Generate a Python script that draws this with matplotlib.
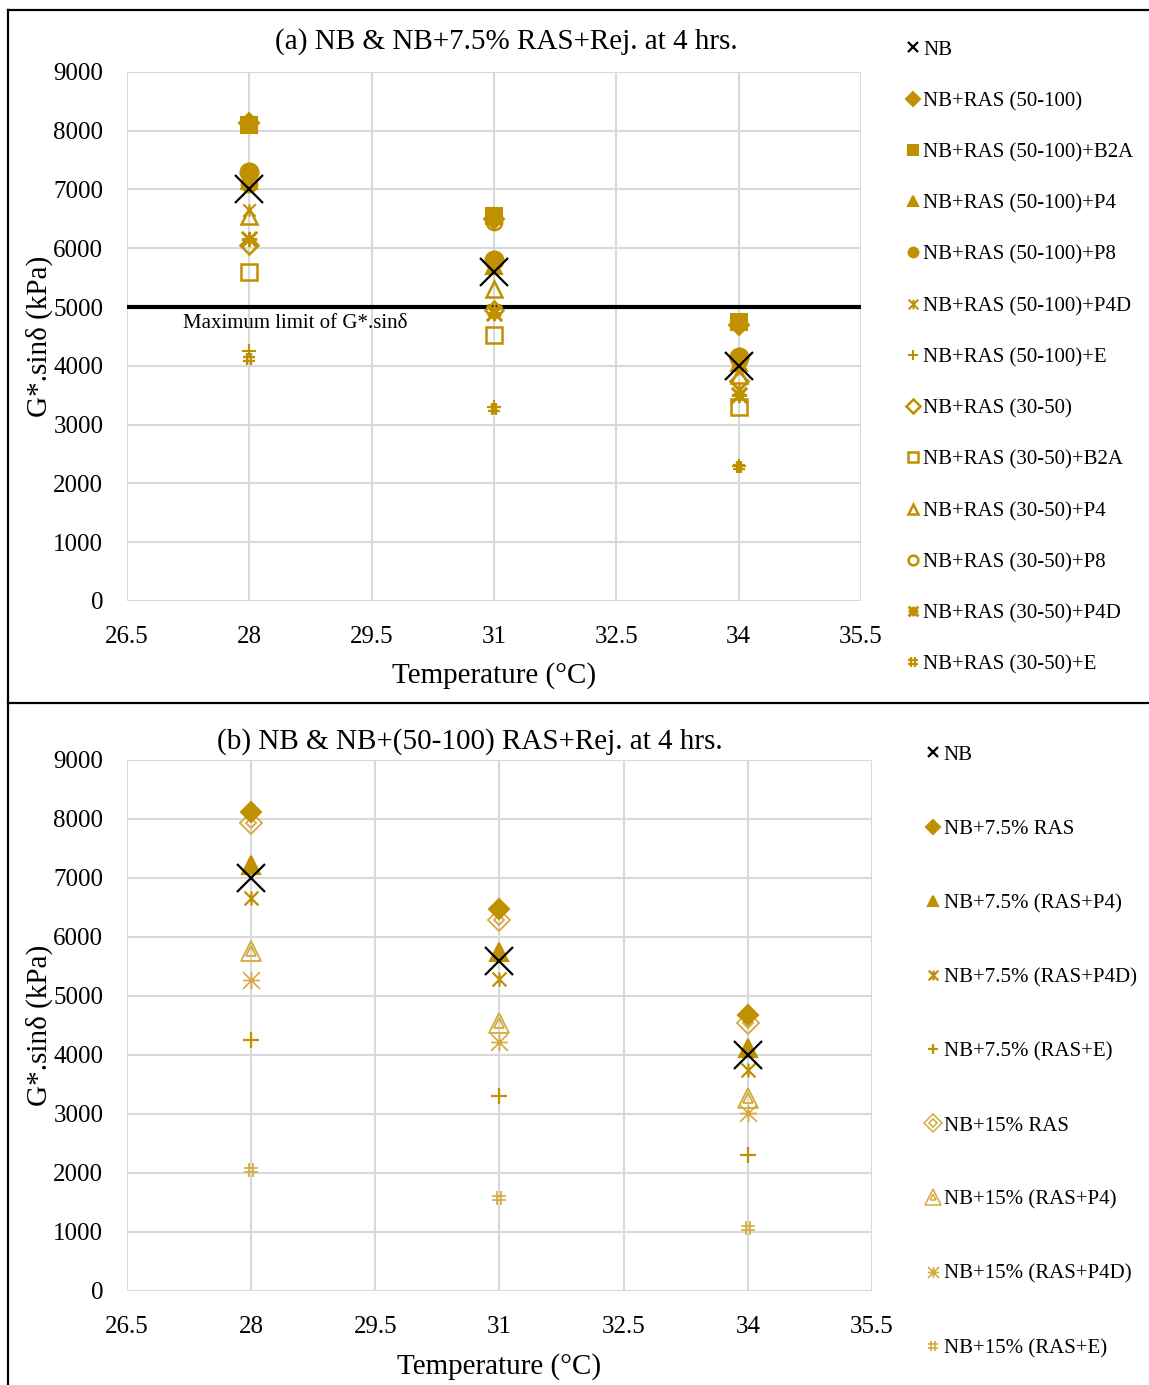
"""
G*.sin(delta) vs temperature for NB and RAS blends (two panels).
"""
import matplotlib
matplotlib.use('Agg')
import matplotlib.pyplot as plt
from matplotlib.path import Path
from matplotlib.lines import Line2D
from matplotlib.legend_handler import HandlerTuple

plt.rcParams['font.family'] = ['Liberation Serif', 'DejaVu Serif']

# ---------------- data ----------------
temps = [28, 31, 34]

# panel (a)
nb = [7000, 5600, 4000]
ras_50_100 = [8130, 6500, 4700]
ras_50_100_b2a = [8100, 6550, 4750]
ras_50_100_p4 = [7150, 5700, 4050]
ras_50_100_p8 = [7300, 5800, 4150]
ras_50_100_p4d = [6650, 4950, 3600]
ras_50_100_e = [4250, 3300, 2300]
ras_30_50 = [6050, 4950, 3750]
ras_30_50_b2a = [5600, 4520, 3300]
ras_30_50_p4 = [6550, 5300, 3850]
ras_30_50_p8 = [7100, 6450, 4100]
ras_30_50_p4d = [6150, 4900, 3500]
ras_30_50_e = [4120, 3270, 2280]

# panel (b)
ras75 = [8120, 6480, 4680]
ras75_p4 = [7220, 5750, 4120]
ras75_p4d = [6660, 5280, 3750]
ras75_e = [4250, 3300, 2300]
ras15 = [7930, 6280, 4540]
ras15_p4 = [5770, 4540, 3270]
ras15_p4d = [5270, 4220, 3020]
ras15_e = [2050, 1580, 1070]

LIMIT = 5000
xticks = [26.5, 28, 29.5, 31, 32.5, 34, 35.5]
yticks = list(range(0, 9001, 1000))

GOLD = '#BF9000'
LIGHT = '#D4AA3C'

# custom markers (Excel star / asterisk / hash look)
M, L = Path.MOVETO, Path.LINETO
STAR = Path([(-1, -1), (1, 1), (-1, 1), (1, -1), (0, -1), (0, 1)],
            [M, L, M, L, M, L])
ASTER = Path([(-1, -1), (1, 1), (-1, 1), (1, -1), (0, -1), (0, 1), (-1, 0), (1, 0)],
             [M, L, M, L, M, L, M, L])
HASH = Path([(-0.35, -1), (-0.35, 1), (0.35, -1), (0.35, 1),
             (-1, -0.35), (1, -0.35), (-1, 0.35), (1, 0.35)],
            [M, L, M, L, M, L, M, L])

fig = plt.figure(figsize=(11.49, 13.85), dpi=100)
ax1 = fig.add_axes([0.1105, 0.5661, 0.6388, 0.3820])
ax2 = fig.add_axes([0.1105, 0.0679, 0.6484, 0.3834])


def style_axes(ax):
    ax.set_xlim(26.5, 35.5)
    ax.set_ylim(0, 9000)
    ax.set_xticks(xticks)
    ax.set_xticklabels([f'{t:g}' for t in xticks])
    ax.set_yticks(yticks)
    ax.grid(True, color='#D9D9D9', lw=1.5, zorder=0)
    ax.set_axisbelow(True)
    for s in ax.spines.values():
        s.set_visible(False)
    ax.tick_params(length=0, labelsize=18)
    ax.tick_params(axis='y', pad=17)
    ax.tick_params(axis='x', pad=18)
    ax.set_ylabel('G*.sinδ (kPa)', fontsize=21, labelpad=0)


def pts(ax, y, marker, ms, color=GOLD, fill=True, mew=1.5, label=None):
    return ax.plot(temps, y, ls='none', marker=marker, ms=ms,
                   mfc=color if fill else 'none', mec=color, mew=mew,
                   label=label, zorder=3)[0]


def proxy(marker, ms, color=LIGHT, mew=1.1):
    return Line2D([], [], ls='none', marker=marker, ms=ms, mfc='none',
                  mec=color, mew=mew)


# ---------------- panel (a) ----------------
style_axes(ax1)
ax1.axhline(LIMIT, color='black', lw=3, zorder=2)
ax1.text(27.19, 4720, 'Maximum limit of G*.sinδ', fontsize=15, va='center', ha='left')

h1 = []
h1.append(pts(ax1, ras_30_50_e, HASH, 9, mew=1.6, label='NB+RAS (30-50)+E'))
h1.append(pts(ax1, ras_50_100_e, '+', 10, label='NB+RAS (50-100)+E'))
h1.append(pts(ax1, ras_30_50_b2a, 's', 11, fill=False, mew=1.8, label='NB+RAS (30-50)+B2A'))
h1.append(pts(ax1, ras_30_50, 'D', 9, fill=False, mew=1.8, label='NB+RAS (30-50)'))
h1.append(pts(ax1, ras_30_50_p4d, ASTER, 11, mew=2.2, label='NB+RAS (30-50)+P4D'))
h1.append(pts(ax1, ras_30_50_p4, '^', 11, fill=False, mew=1.8, label='NB+RAS (30-50)+P4'))
h1.append(pts(ax1, ras_50_100_p4d, STAR, 9, label='NB+RAS (50-100)+P4D'))
h1.append(pts(ax1, ras_30_50_p8, 'o', 11, fill=False, mew=1.8, label='NB+RAS (30-50)+P8'))
h1.append(pts(ax1, ras_50_100_p4, '^', 12, label='NB+RAS (50-100)+P4'))
h1.append(pts(ax1, ras_50_100, 'D', 10, label='NB+RAS (50-100)'))
h1.append(pts(ax1, ras_50_100_b2a, 's', 12, label='NB+RAS (50-100)+B2A'))
h1.append(pts(ax1, ras_50_100_p8, 'o', 13, label='NB+RAS (50-100)+P8'))
h1.append(pts(ax1, nb, 'x', 20, color='black', mew=1.6, label='NB'))
ax1.set_xlabel('Temperature (°C)', fontsize=21, labelpad=10)

order1 = ['NB', 'NB+RAS (50-100)', 'NB+RAS (50-100)+B2A', 'NB+RAS (50-100)+P4',
          'NB+RAS (50-100)+P8', 'NB+RAS (50-100)+P4D', 'NB+RAS (50-100)+E',
          'NB+RAS (30-50)', 'NB+RAS (30-50)+B2A', 'NB+RAS (30-50)+P4',
          'NB+RAS (30-50)+P8', 'NB+RAS (30-50)+P4D', 'NB+RAS (30-50)+E']
by_lab = {h.get_label(): h for h in h1}
leg1 = fig.legend([by_lab[k] for k in order1], order1, loc='upper left',
                  bbox_to_anchor=(0.788, 0.971), frameon=False, fontsize=15,
                  labelspacing=1.52, handlelength=0.7, handletextpad=0.15,
                  borderpad=0, borderaxespad=0)
for h in leg1.legend_handles:
    h.set_markersize(7)

fig.text(506 / 1149, 1 - 42 / 1385, '(a) NB & NB+7.5% RAS+Rej. at 4 hrs.',
         fontsize=21, ha='center', va='center')

# ---------------- panel (b) ----------------
style_axes(ax2)
e15 = pts(ax2, ras15_e, HASH, 10, color=LIGHT, fill=False, mew=1.2)
e75 = pts(ax2, ras75_e, '+', 11, mew=1.6)
a15 = pts(ax2, ras15_p4d, ASTER, 12, color=LIGHT, mew=1.2)
t15a = pts(ax2, ras15_p4, '^', 14, color=LIGHT, fill=False, mew=1.3)
t15b = pts(ax2, ras15_p4, '^', 7, color=LIGHT, fill=False, mew=1.3)
d15a = pts(ax2, ras15, 'D', 11, color=LIGHT, fill=False, mew=1.3)
d15b = pts(ax2, ras15, 'D', 5, color=LIGHT, fill=False, mew=1.3)
s75 = pts(ax2, ras75_p4d, STAR, 10, mew=1.6)
t75 = pts(ax2, ras75_p4, '^', 13)
d75 = pts(ax2, ras75, 'D', 10)
nb2 = pts(ax2, nb, 'x', 20, color='black', mew=1.6)
ax2.set_xlabel('Temperature (°C)', fontsize=21, labelpad=11)

# legend keys for the double-outline series
d15_key = (proxy('D', 9), proxy('D', 4))
t15_key = (proxy('^', 11), proxy('^', 5))

hand2 = [nb2, d75, t75, s75, e75, d15_key, t15_key, a15, e15]
lab2 = ['NB', 'NB+7.5% RAS', 'NB+7.5% (RAS+P4)', 'NB+7.5% (RAS+P4D)',
        'NB+7.5% (RAS+E)', 'NB+15% RAS', 'NB+15% (RAS+P4)',
        'NB+15% (RAS+P4D)', 'NB+15% (RAS+E)']
leg2 = fig.legend(hand2, lab2, loc='upper left', bbox_to_anchor=(0.806, 0.462),
                  frameon=False, fontsize=15, labelspacing=2.62,
                  handlelength=0.7, handletextpad=0.15, borderpad=0,
                  borderaxespad=0, handler_map={tuple: HandlerTuple(ndivide=1)})
for i, h in enumerate(leg2.legend_handles):
    if i not in (5, 6):
        h.set_markersize(8 if i == 7 else 7)

fig.text(470 / 1149, 1 - 742 / 1385, '(b) NB & NB+(50-100) RAS+Rej. at 4 hrs.',
         fontsize=21, ha='center', va='center')

# panel frame lines
for xs, ys in [([8 / 1149, 8 / 1149], [0, 1 - 10 / 1385]),
               ([8 / 1149, 1], [1 - 10 / 1385, 1 - 10 / 1385]),
               ([8 / 1149, 1], [1 - 703 / 1385, 1 - 703 / 1385])]:
    fig.add_artist(Line2D(xs, ys, color='black', lw=1.6, transform=fig.transFigure))

fig.savefig('out.png', dpi=100)
